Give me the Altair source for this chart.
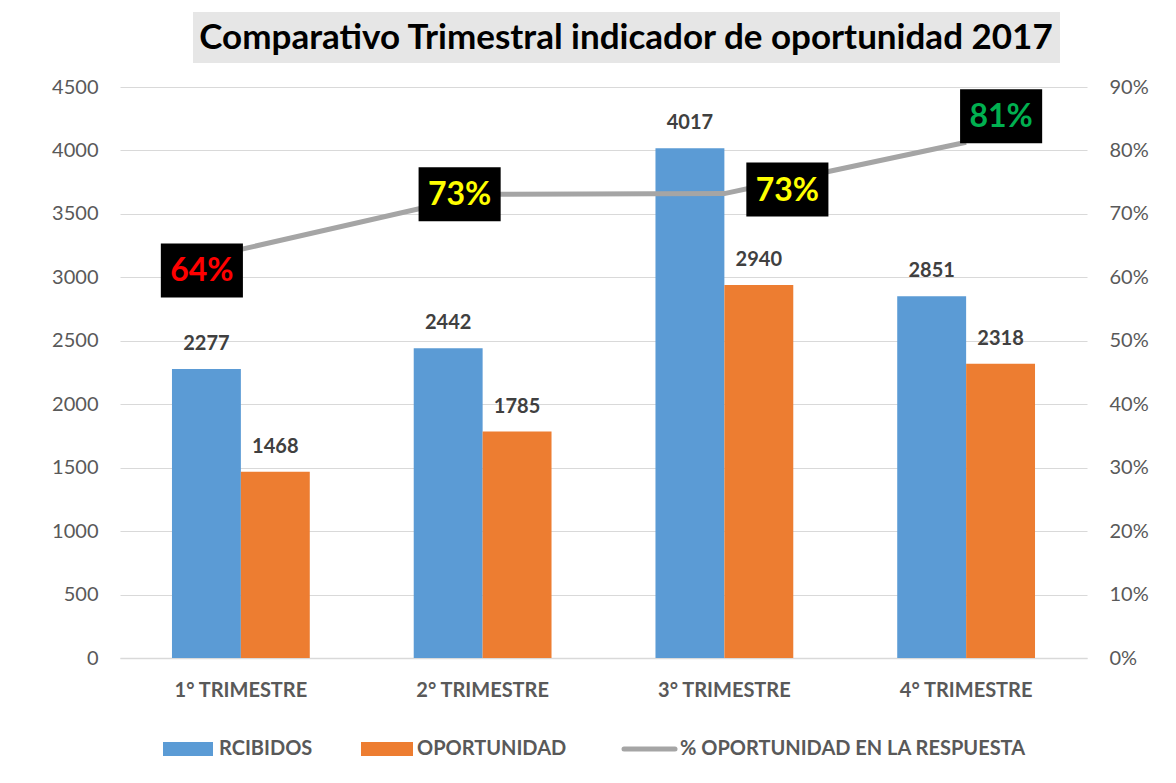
import altair as alt
import pandas as pd

# ---- data ----
categories = ["1° TRIMESTRE", "2° TRIMESTRE", "3° TRIMESTRE", "4° TRIMESTRE"]
recibidos = [2277, 2442, 4017, 2851]
oportunidad = [1468, 1785, 2940, 2318]
pct_oportunidad = [0.644, 0.731, 0.732, 0.813]
series_names = ["RCIBIDOS", "OPORTUNIDAD"]
line_name = "% OPORTUNIDAD EN LA RESPUESTA"
title_text = "Comparativo Trimestral indicador de oportunidad 2017"

# ---- styles ----
FONT = "Lato"
BLUE, ORANGE, GRAY = "#5B9BD5", "#ED7D31", "#A5A5A5"
AXIS_GRAY = "#595959"
label_colors = ["#FF0000", "#FFFF00", "#FFFF00", "#00B050"]
label_offsets = [(-39, 21), (-23, 0), (63, -4), (35, -26)]

bars_df = pd.DataFrame({
    "trimestre": categories * 2,
    "serie": [series_names[0]] * 4 + [series_names[1]] * 4,
    "valor": recibidos + oportunidad,
})
line_df = pd.DataFrame({"trimestre": categories, "pct": pct_oportunidad})

x_enc = alt.X(
    "trimestre:N", sort=categories, title=None,
    scale=alt.Scale(paddingInner=0.43, paddingOuter=0.215),
    axis=alt.Axis(labelAngle=0, labelFont=FONT, labelFontSize=20, labelFontWeight="bold",
                  labelColor=AXIS_GRAY, labelPadding=22, ticks=False,
                  domainColor="#D9D9D9", domainWidth=1.5),
)
xoff = alt.XOffset("serie:N", sort=series_names, scale=alt.Scale(paddingInner=0))
y_left = alt.Y(
    "valor:Q", title=None, scale=alt.Scale(domain=[0, 4500]),
    axis=alt.Axis(values=list(range(0, 4501, 500)), format="d", labelFont=FONT,
                  labelFontSize=20, labelColor=AXIS_GRAY, labelPadding=22, ticks=False,
                  domain=False, gridColor="#D9D9D9", gridWidth=1.2),
)

bars = alt.Chart(bars_df).mark_bar().encode(
    x=x_enc, xOffset=xoff, y=y_left,
    color=alt.Color("serie:N", sort=series_names,
                    scale=alt.Scale(domain=series_names, range=[BLUE, ORANGE]), legend=None),
)
bar_text = alt.Chart(bars_df).mark_text(
    baseline="bottom", dy=-15, font=FONT, fontSize=20, fontWeight="bold", color="#404040"
).encode(x=x_enc, xOffset=xoff, y=alt.Y("valor:Q"), text=alt.Text("valor:Q", format="d"))

left = alt.layer(bars, bar_text)

y_right = alt.Y(
    "pct:Q", title=None, scale=alt.Scale(domain=[0, 0.9]),
    axis=alt.Axis(orient="right", format=".0%", values=[i / 10 for i in range(10)],
                  labelFont=FONT, labelFontSize=20, labelColor=AXIS_GRAY, labelPadding=22,
                  ticks=False, domain=False, grid=False),
)
line = alt.Chart(line_df).mark_line(color=GRAY, strokeWidth=5).encode(
    x=alt.X("trimestre:N", sort=categories), y=y_right
)
right_layers = [line]
box_shape = "M-0.76,-0.5H0.76V0.5H-0.76Z"
for i, cat in enumerate(categories):
    dx, dy = label_offsets[i]
    base = alt.Chart(line_df).transform_filter(alt.datum.trimestre == cat)
    right_layers.append(
        base.mark_point(shape=box_shape, size=11664, filled=True, color="black",
                        opacity=1, xOffset=dx, yOffset=dy)
        .encode(x=alt.X("trimestre:N", sort=categories), y=alt.Y("pct:Q"))
    )
    right_layers.append(
        base.mark_text(font=FONT, fontSize=32, fontWeight="bold", color=label_colors[i],
                       baseline="middle", align="center", xOffset=dx, yOffset=dy + 1)
        .encode(x=alt.X("trimestre:N", sort=categories), y=alt.Y("pct:Q"),
                text=alt.Text("pct:Q", format=".0%"))
    )
right = alt.layer(*right_layers)

# ---- decorations: title (with its grey box) and legend ----
one = pd.DataFrame({"k": [0]})
title_bg = alt.Chart(one).mark_rect(color="#E6E6E6").encode(
    x=alt.value(73), x2=alt.value(940), y=alt.value(-75), y2=alt.value(-24)
)
title_mark = alt.Chart(one).mark_text(
    align="center", baseline="middle", font=FONT, fontSize=35, fontWeight="bold",
    color="black", text=title_text
).encode(x=alt.value(506), y=alt.value(-49))

leg_y = 662
LEG_FS = 20
legend_layers = [
    alt.Chart(one).mark_rect(color=BLUE).encode(
        x=alt.value(43), x2=alt.value(93), y=alt.value(leg_y - 7), y2=alt.value(leg_y + 7)),
    alt.Chart(one).mark_text(align="left", baseline="middle", font=FONT, fontSize=LEG_FS,
                             fontWeight="bold", color=AXIS_GRAY, text=series_names[0]).encode(
        x=alt.value(99), y=alt.value(leg_y)),
    alt.Chart(one).mark_rect(color=ORANGE).encode(
        x=alt.value(241), x2=alt.value(293), y=alt.value(leg_y - 7), y2=alt.value(leg_y + 7)),
    alt.Chart(one).mark_text(align="left", baseline="middle", font=FONT, fontSize=LEG_FS,
                             fontWeight="bold", color=AXIS_GRAY, text=series_names[1]).encode(
        x=alt.value(297), y=alt.value(leg_y)),
    alt.Chart(one).mark_rule(color=GRAY, strokeWidth=5, strokeCap="round").encode(
        x=alt.value(504), x2=alt.value(555), y=alt.value(leg_y)),
    alt.Chart(one).mark_text(align="left", baseline="middle", font=FONT, fontSize=LEG_FS,
                             fontWeight="bold", color=AXIS_GRAY, text=line_name).encode(
        x=alt.value(560), y=alt.value(leg_y)),
]
deco = alt.layer(title_bg, title_mark, *legend_layers)

chart = (
    alt.layer(deco, left, right)
    .resolve_scale(y="independent")
    .properties(
        width=967, height=571,
        autosize=alt.AutoSizeParams(type="none"),
        padding={"left": 112, "top": 79, "right": 70, "bottom": 110},
    )
    .configure_view(stroke=None)
)

chart.save("out.html", embed_options={"renderer": "svg", "actions": False})
